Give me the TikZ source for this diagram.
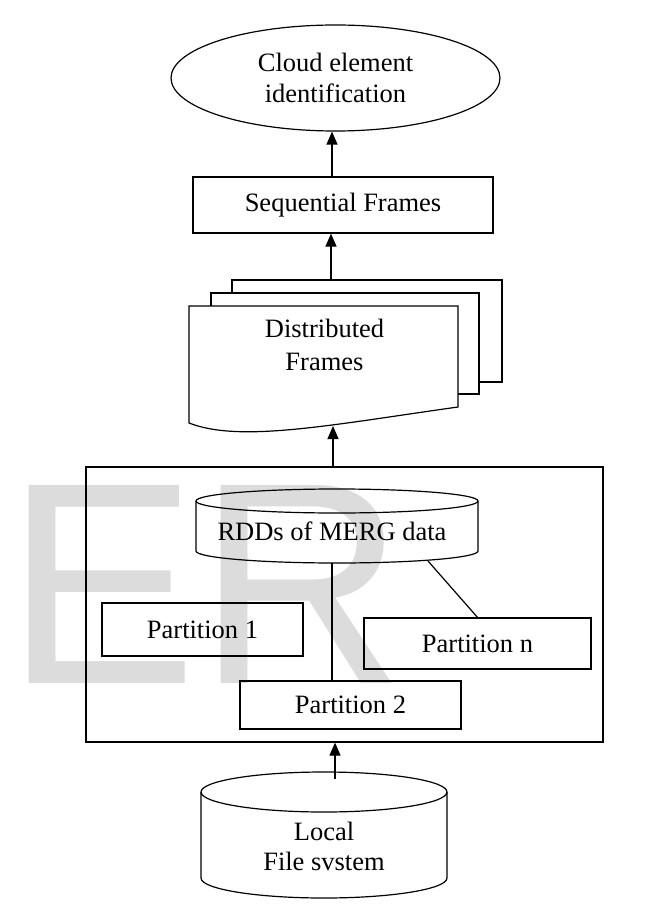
\documentclass[tikz,border=0pt]{standalone}
\usepackage{fontspec}
\setmainfont{Liberation Serif}
\newfontfamily\wmfont{Liberation Sans}
\usetikzlibrary{arrows.meta,shapes.geometric}
\definecolor{wm}{RGB}{220,220,220}
\begin{document}
\begin{tikzpicture}[x=1pt,y=-1pt, line width=1.2pt,
  every node/.style={font=\fontsize{26.5}{31}\selectfont, inner sep=0pt, align=center},
  box/.style={draw, rectangle},
  arr/.style={-{Triangle[length=13pt,width=11pt]}}]
\useasboundingbox (0,0) rectangle (661,917);
% watermark
\node[font=\wmfont\fontsize{288}{288}\selectfont, text=wm, anchor=base west] (wmark) at (5,683) {ER};
% top ellipse
\node[draw, ellipse, minimum width=329pt, minimum height=106pt] (ell) at (335.5,78) {Cloud element\\identification};
% sequential frames
\node[box, minimum width=300pt, minimum height=56pt] (seq) at (343,205) {Sequential Frames};
% document stack
\draw (232,293) -- (232,280) -- (502,280) -- (502,382) -- (479,382);
\draw (211,306) -- (211,293) -- (479,293) -- (479,394) -- (458,394);
\draw (189,306) -- (189,423) .. controls (240,443) and (330,425) .. (458,407) -- (458,306) -- cycle;
\node[font=\fontsize{26.5}{33}\selectfont] (doc) at (324.5,345) {Distributed\\Frames};
\coordinate (dtop) at (331,280);
\coordinate (dbot) at (333,426);
% big box
\node[box, minimum width=517pt, minimum height=275pt] (box) at (344.5,604.5) {};
% RDD cylinder
\draw (337,501) ellipse [x radius=141pt, y radius=12pt];
\draw (196,501) -- (196,551) arc[start angle=180, end angle=360, x radius=141pt, y radius=12pt] -- (478,501);
\node (rdd) at (332,531) {RDDs of MERG data};
\coordinate (rddbot) at (332,563);
\coordinate (rddbr) at (428,561);
% partitions
\node[box, minimum width=201pt, minimum height=53pt] (p1) at (202.5,629.5) {Partition 1};
\node[box, minimum width=227pt, minimum height=51pt] (pn) at (477.5,643.5) {Partition n};
\node[box, minimum width=221pt, minimum height=48pt] (p2) at (350.5,705) {Partition 2};
\draw (rddbot) -- (rddbot |- p2.north);
\draw (rddbr) -- (pn.north);
% local file system cylinder
\draw (324,792) ellipse [x radius=123pt, y radius=20pt];
\draw (201,792) -- (201,878) arc[start angle=180, end angle=360, x radius=123pt, y radius=20pt] -- (447,792);
\node[font=\fontsize{26.5}{30}\selectfont] (lfs) at (324,846) {Local\\File svstem};
\coordinate (ltop) at (335,779);
% arrows
\draw[arr] ([xshift=-11pt]seq.north) -- ([xshift=-11pt]seq.north |- ell.south);
\draw[arr] (dtop) -- (dtop |- seq.south);
\draw[arr] ([xshift=-11.5pt]box.north) -- (dbot);
\draw[arr] (ltop) -- (ltop |- box.south);
\end{tikzpicture}
\end{document}
